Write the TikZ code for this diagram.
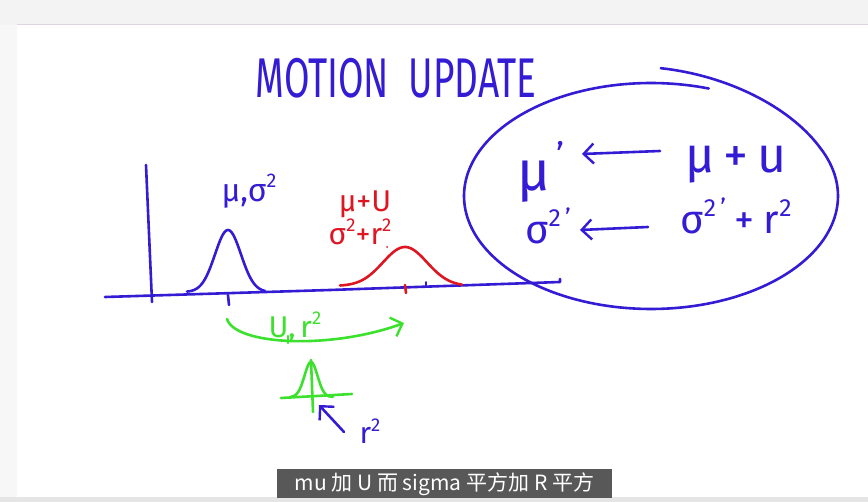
\documentclass[tikz,border=0pt]{standalone}
\usepackage{fontspec}
\setmainfont{Fira Sans}
\newfontfamily\cjk{Noto Sans CJK SC}
\usetikzlibrary{arrows.meta}
\definecolor{ink}{RGB}{52,28,212}
\definecolor{redink}{RGB}{222,22,34}
\definecolor{greenink}{RGB}{60,225,45}
\definecolor{subgray}{RGB}{88,88,88}
\definecolor{topgray}{RGB}{243,243,243}
\definecolor{topline}{RGB}{220,212,222}
\newcommand\up[1]{\raisebox{0.42em}{\scalebox{0.62}{#1}}}
\tikzset{
  pen/.style={line width=2.6pt, line cap=round, line join=round},
  blue pen/.style={pen, draw=ink},
  red pen/.style={pen, draw=redink},
  green pen/.style={pen, draw=greenink},
  handtip/.style={-{Straight Barb[length=7pt,width=13pt,line width=2.4pt]}},
  bigtip/.style={-{Straight Barb[length=10pt,width=20pt,line width=2.4pt]}},
  lab/.style={inner sep=0pt, text=ink},
}
\begin{document}
\begin{tikzpicture}[x=1pt,y=-1pt]
% background
\useasboundingbox (0,0) rectangle (868,502);
\fill[white] (0,0) rectangle (868,502);
\fill[topgray] (0,0) rectangle (868,25);
\fill[black!3] (0,25) rectangle (17,497);
\fill[black!10] (0,497) rectangle (868,502);
\draw[topline, line width=1pt] (17,25) -- (868,25);

% title
\node[lab, font=\fontsize{56}{56}\selectfont] (title) at (396,78) {\scalebox{0.66}[1]{MOTION\ \ UPDATE}};

% axes
\draw[blue pen] (146,165) -- (152,302);
\draw[blue pen] (105,297) -- (330,290) -- (560,282) -- (560,279);

% blue gaussian
\draw[blue pen] plot[domain=-41:37, samples=60] ({228+\x},{292-62*exp(-(\x*\x)/(2*13*13))});
\draw[blue pen] (228,295) -- (229,305);
\node[lab, font=\fontsize{32}{32}\selectfont] (musig) at (249,191) {μ,σ\up{2}};

% red gaussian
\draw[red pen] plot[domain=-65:57, samples=60] ({405+\x},{286-39*exp(-(\x*\x)/(2*22*22))});
\draw[red pen] (405,285) -- (406,293);
\draw[blue pen, line width=1.6pt] (426,282) -- (426,286);
\fill[redink] (387,247) circle (1pt);
\node[inner sep=0pt, text=redink, font=\fontsize{30}{30}\selectfont] (muU) at (365,204) {μ+U};
\node[inner sep=0pt, text=redink, font=\fontsize{30}{30}\selectfont] (sigr) at (360,232) {σ\up{2}+r\up{2}};

% green motion arc
\coordinate (gstart) at (227,319);
\coordinate (gend) at (404,323);
\draw[green pen, bigtip] (gstart) .. controls (235,345) and (330,350) .. (gend);
\draw[green pen] (288,336) -- (288,343);
\node[inner sep=0pt, text=greenink, font=\fontsize{30}{30}\selectfont] (Ur) at (295,327) {U,\,r\up{2}};

% green small gaussian
\draw[green pen] (281,398) -- (352,394);
\draw[green pen] plot[domain=-20:22, samples=40] ({311+\x},{397-35*exp(-(\x*\x)/(2*6.5*6.5))});
\draw[green pen] (311,360) -- (313,412);

% r^2 arrow
\coordinate (gtip) at (319,405);
\coordinate (rtail) at (344,432);
\draw[blue pen, bigtip] (rtail) -- (gtip);
\node[lab, font=\fontsize{30}{30}\selectfont] (r2) at (370,431) {r\up{2}};

% ellipse (open, overlapping ends)
\draw[blue pen] plot[domain=72:447, samples=200]
  ({651+187*cos(\x)},{196-(113+15*max(0,(\x-385)/62))*sin(\x)});

% update equations
\node[lab, font=\fontsize{56}{56}\selectfont] (mup) at (541,172) {μ\up{\,'}};
\node[lab, font=\fontsize{50}{50}\selectfont] (muu) at (736,165) {μ\hspace{9pt}+\hspace{9pt}u};
\node[lab, font=\fontsize{40}{40}\selectfont] (sigp) at (548,226) {σ\up{2\,'}};
\node[lab, font=\fontsize{40}{40}\selectfont] (sigr2) at (736,216) {σ\up{2\,'}\hspace{9pt}+\hspace{9pt}r\up{2}};
\coordinate (a1s) at (660,151);
\coordinate (a1e) at (582,154);
\coordinate (a2s) at (648,227);
\coordinate (a2e) at (580,230);
\draw[blue pen, bigtip] (a1s) -- (a1e);
\draw[blue pen, bigtip] (a2s) -- (a2e);

% subtitle
\node[fill=subgray, text=white, font=\cjk\fontsize{21}{21}\selectfont,
      minimum height=29pt, minimum width=335pt, inner sep=0pt] (sub) at (444.5,484)
      {mu 加 U 而 sigma 平方加 R 平方};
\end{tikzpicture}
\end{document}
